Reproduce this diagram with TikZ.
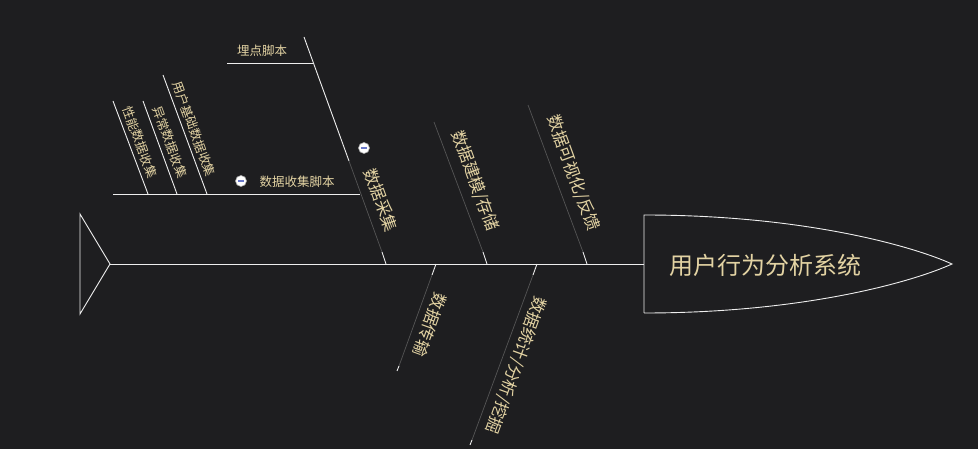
\documentclass[tikz,border=0pt]{standalone}
\usepackage{fontspec}
\setmainfont{Noto Sans CJK SC}
\definecolor{bg}{HTML}{1E1E20}
\definecolor{txt}{HTML}{E3D3A3}
\definecolor{bright}{HTML}{EEEEEE}
\definecolor{dim}{HTML}{555555}
\definecolor{minus}{HTML}{6A78C8}
\tikzset{
  brightline/.style={draw=bright, line width=0.9pt},
  dimline/.style={draw=dim, line width=0.7pt},
  sublabel/.style={text=txt, inner sep=0pt, font=\fontsize{12.5}{14}\selectfont},
  bonelabel/.style={text=txt, inner sep=0pt, font=\fontsize{16.5}{18}\selectfont},
  headlabel/.style={text=txt, inner sep=0pt, font=\fontsize{24}{28}\selectfont},
  foldmark/.style={circle, fill=white, draw=gray!70, line width=0.6pt, inner sep=0pt, minimum size=11pt},
}
\begin{document}
\begin{tikzpicture}[x=1pt, y=-1pt]
\useasboundingbox (0,0) rectangle (978,449);
\fill[bg] (0,0) rectangle (978,449);

% tail and spine
\coordinate (tailtop) at (80,214);
\coordinate (tailbot) at (80,314);
\coordinate (tailv) at (110,264);
\coordinate (headl) at (644,264);
\coordinate (headtop) at (644,215);
\coordinate (headbot) at (644,313);
\coordinate (tip) at (952,264);
\draw[brightline] (tailtop) -- (tailbot) -- (tailv) -- cycle;
\draw[brightline] (tailv) -- (headl);
\draw[brightline] (headbot) -- (headtop) .. controls (800,215) and (910,245) .. (tip)
  .. controls (910,283) and (800,313) .. (headbot);
\node[headlabel] (head) at (765,265) {用户行为分析系统};

% bone 1: 数据采集
\coordinate (b1top) at (304,37);
\coordinate (b1mid) at (349,161);
\coordinate (b1low) at (382,252);
\coordinate (b1s) at (386,264);
\draw[brightline] (b1top) -- (b1mid);
\draw[dimline] (b1mid) -- (b1low);
\draw[brightline] (b1low) -- (b1s);
\node[bonelabel, rotate=-70] (l1) at (381,200) {数据采集};
\node[foldmark] (m1) at (364,148) {\textcolor{minus}{\rule{5.5pt}{1.2pt}}};

% 埋点脚本
\coordinate (s1a) at (227,63);
\coordinate (s1b) at (313,63);
\draw[brightline] (s1a) -- (s1b);
\node[sublabel] (l11) at (262,51) {埋点脚本};

% 数据收集脚本
\coordinate (s2a) at (113,194);
\coordinate (s2b) at (360,194);
\draw[brightline] (s2a) -- (s2b);
\node[sublabel] (l12) at (297,182) {数据收集脚本};
\node[foldmark] (m2) at (241,181) {\textcolor{minus}{\rule{5.5pt}{1.2pt}}};

% sub-sub bones
\coordinate (t1a) at (148,194);
\coordinate (t1b) at (113,101);
\coordinate (t2a) at (177,194);
\coordinate (t2b) at (143,101);
\coordinate (t3a) at (207,194);
\coordinate (t3b) at (163,75);
\draw[brightline] (t1a) -- (t1b);
\draw[brightline] (t2a) -- (t2b);
\draw[brightline] (t3a) -- (t3b);
\node[sublabel, rotate=-70] (l121) at (140,142) {性能数据收集};
\node[sublabel, rotate=-70] (l122) at (170,142) {异常数据收集};
\node[sublabel, rotate=-70] (l123) at (194,129) {用户基础数据收集};

% bone 2: 数据建模/存储
\coordinate (b2top) at (434,122);
\coordinate (b2low) at (483,252);
\coordinate (b2s) at (487,264);
\draw[dimline] (b2top) -- (b2low);
\draw[brightline] (b2low) -- (b2s);
\node[bonelabel, rotate=-70] (l2) at (475,181) {数据建模/存储};

% bone 3: 数据可视化/反馈
\coordinate (b3top) at (528,105);
\coordinate (b3low) at (583,252);
\coordinate (b3s) at (587,264);
\draw[dimline] (b3top) -- (b3low);
\draw[brightline] (b3low) -- (b3s);
\node[bonelabel, rotate=-70] (l3) at (573,173) {数据可视化/反馈};

% bottom bone 1: 数据传输
\coordinate (d1s) at (436,264);
\coordinate (d1hi) at (432,275);
\coordinate (d1lo) at (399,366);
\coordinate (d1end) at (397,371);
\draw[brightline] (d1s) -- (d1hi);
\draw[dimline] (d1hi) -- (d1lo);
\draw[brightline] (d1lo) -- (d1end);
\node[bonelabel, rotate=-110] (l4) at (430,325) {数据传输};

% bottom bone 2: 数据统计/分析/挖掘
\coordinate (d2s) at (537,264);
\coordinate (d2hi) at (533,275);
\coordinate (d2lo) at (472,440);
\coordinate (d2end) at (470,445);
\draw[brightline] (d2s) -- (d2hi);
\draw[dimline] (d2hi) -- (d2lo);
\draw[brightline] (d2lo) -- (d2end);
\node[bonelabel, rotate=-110] (l5) at (516,365) {数据统计/分析/挖掘};
\end{tikzpicture}
\end{document}
